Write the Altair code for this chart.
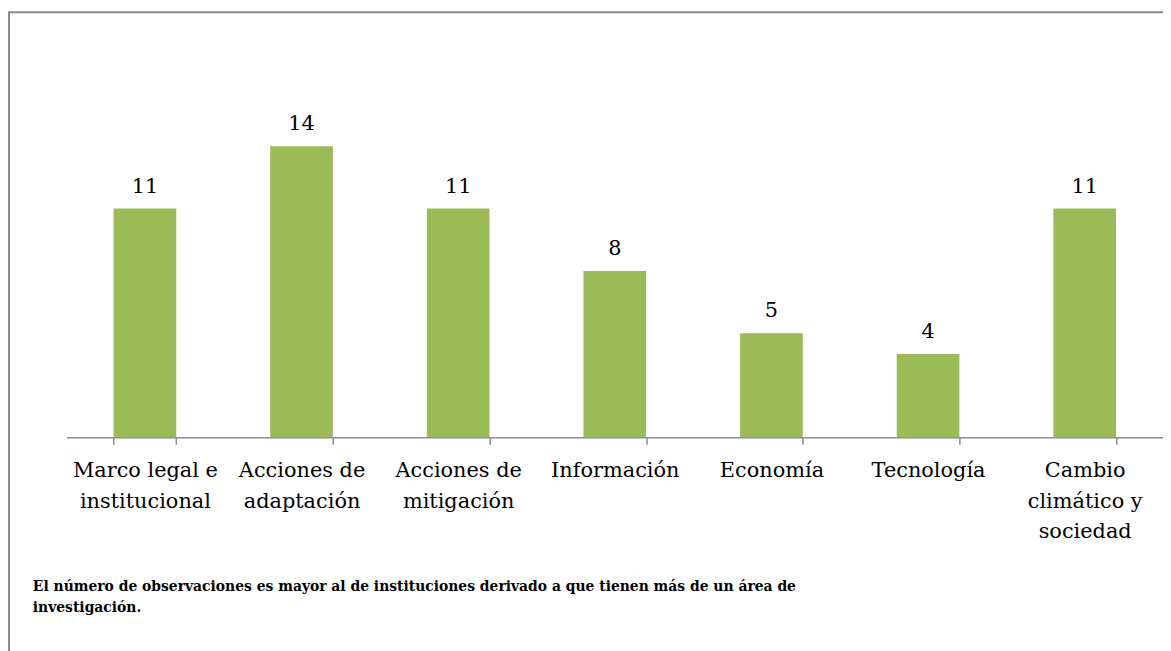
import json
import altair as alt
import pandas as pd

categories = [
    "Marco legal e institucional",
    "Acciones de adaptación",
    "Acciones de mitigación",
    "Información",
    "Economía",
    "Tecnología",
    "Cambio climático y sociedad",
]
values = [11, 14, 11, 8, 5, 4, 11]
label_lines = [
    ["Marco legal e", "institucional"],
    ["Acciones de", "adaptación"],
    ["Acciones de", "mitigación"],
    ["Información"],
    ["Economía"],
    ["Tecnología"],
    ["Cambio", "climático y", "sociedad"],
]
footnote = [
    "El número de observaciones es mayor al de instituciones derivado a que tienen más de un área de",
    "investigación.",
]

df = pd.DataFrame({"cat": categories, "val": values})

expr = "datum.label"
for c, lines in reversed(list(zip(categories, label_lines))):
    expr = f"datum.label == {json.dumps(c)} ? {json.dumps(lines)} : ({expr})"

W, H = 1104, 335
GREEN = "#9BBB59"
GRAY = "#8C8C8C"
SERIF = "DejaVu Serif"

x_enc = alt.X(
    "cat:N",
    sort=categories,
    scale=alt.Scale(paddingInner=0.6, paddingOuter=0.3),
    axis=alt.Axis(
        title=None,
        labelAngle=0,
        labelExpr=expr,
        labelFont=SERIF,
        labelFontSize=21,
        labelColor="black",
        labelLineHeight=30.5,
        labelPadding=16,
        labelLimit=0,
        labelOverlap=False,
        tickBand="extent",
        tickSize=7,
        tickColor=GRAY,
        tickWidth=1.5,
        domainColor=GRAY,
        domainWidth=1.5,
    ),
)
y_enc = alt.Y("val:Q", scale=alt.Scale(domain=[0, 16], nice=False), axis=None)

base = alt.Chart(df)
bars = base.mark_bar(color=GREEN).encode(x=x_enc, y=y_enc)
texts = base.mark_text(
    font=SERIF, fontSize=21, color="black", baseline="alphabetic", dy=-16
).encode(x=alt.X("cat:N", sort=categories), y="val:Q", text="val:Q")

frame = alt.Chart(pd.DataFrame({"k": [0]})).mark_rect(
    filled=False, stroke=GRAY, strokeWidth=2, clip=False
).encode(
    x=alt.value(-58), x2=alt.value(W + 200), y=alt.value(-93), y2=alt.value(H + 400)
)

note = alt.Chart(pd.DataFrame({"k": [0]})).mark_text(
    font=SERIF, fontSize=14, fontWeight="bold", color="black",
    align="left", baseline="alphabetic", lineHeight=21,
).encode(x=alt.value(-34), y=alt.value(490), text=alt.value(footnote))

chart = alt.layer(frame, bars, texts, note).properties(
    width=W,
    height=H,
    background="white",
    padding={"left": 59, "top": 95, "right": 0, "bottom": 213},
    autosize=alt.AutoSizeParams(type="none"),
).configure_view(strokeWidth=0, stroke="transparent")

chart.save("out.html", embed_options={"renderer": "svg", "actions": False})
